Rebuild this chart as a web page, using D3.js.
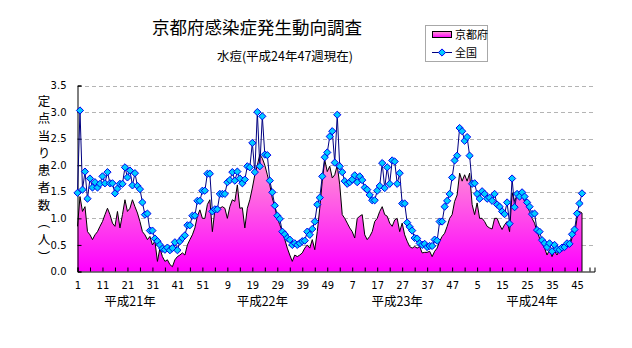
<!DOCTYPE html>
<html><head><meta charset="utf-8">
<script src="https://cdn.jsdelivr.net/npm/d3@7"></script>
<style>
html,body{margin:0;padding:0;background:#fff;}
svg{display:block;font-family:"Noto Sans CJK JP","Noto Sans",sans-serif;}
</style></head><body>
<svg id="c" width="632" height="348"></svg>
<script>
// ---- data ----
const title = "京都府感染症発生動向調査";
const subtitle = "水痘(平成24年47週現在)";
const yLabel = "定点当り患者数（人）";
const seriesNames = ["京都府", "全国"];
const eraYears = ["平成21年", "平成22年", "平成23年", "平成24年"];
const eraLabelWeekIndex = [21, 74, 128, 182];
const weeksPerYear = 52;
const yTicks = [0, 0.5, 1, 1.5, 2, 2.5, 3, 3.5];

const kyoto = [
0.85,1.41,1.13,1.22,0.75,0.69,0.60,0.69,0.75,0.85,0.94,1.07,1.19,1.07,0.91,0.85,1.13,0.82,1.07,1.35,
1.13,1.19,1.35,1.22,1.10,0.94,0.75,0.69,0.60,0.66,0.50,0.57,0.19,0.44,0.28,0.19,0.22,0.13,0.09,0.22,
0.28,0.31,0.35,0.31,0.50,0.60,0.69,0.82,1.04,1.16,1.00,1.00,1.26,1.35,0.75,1.16,1.22,1.19,1.22,1.19,
1.00,1.22,1.35,1.32,1.63,1.19,1.20,0.82,1.19,1.35,1.57,1.82,2.00,2.20,2.13,2.00,1.82,1.63,1.38,1.22,
1.00,0.88,0.75,0.60,0.44,0.31,0.19,0.31,0.28,0.31,0.35,0.44,0.50,0.44,0.60,0.41,0.75,1.19,1.70,2.10,
1.88,1.98,1.76,1.82,2.00,1.63,1.07,1.00,0.91,0.82,0.75,0.63,1.00,1.04,1.07,0.69,0.60,0.66,0.75,0.94,
1.00,1.13,1.22,1.07,1.04,0.91,0.85,0.97,1.00,0.75,0.91,0.69,0.57,0.47,0.44,0.47,0.44,0.47,0.35,0.36,
0.36,0.38,0.28,0.38,0.44,0.57,0.66,0.72,0.85,1.00,1.07,1.32,1.44,1.85,1.70,1.82,1.70,1.85,1.26,1.07,
1.29,1.00,1.00,0.94,0.85,0.82,0.80,1.00,1.00,0.88,0.79,0.88,0.94,0.75,1.48,1.32,1.44,1.51,1.44,1.32,
1.22,1.13,1.00,0.91,0.75,0.63,0.53,0.44,0.31,0.41,0.28,0.38,0.31,0.41,0.38,0.44,0.47,0.47,0.63,0.69,
1.00,1.13,1.10
];
const national = [
1.48,3.03,1.54,1.88,1.37,1.75,1.58,1.68,1.58,1.65,1.79,1.66,1.87,1.66,1.66,1.47,1.56,1.65,1.65,1.96,
1.77,1.90,1.62,1.85,1.61,1.55,1.30,1.07,1.09,0.77,0.77,0.62,0.57,0.50,0.43,0.41,0.45,0.40,0.44,0.55,
0.40,0.57,0.63,0.68,0.87,0.87,1.05,1.05,1.33,1.33,1.52,1.52,1.84,1.84,1.13,1.17,1.17,1.46,1.46,1.46,
1.68,1.72,1.87,1.71,1.88,1.75,1.66,1.73,1.98,1.96,2.42,1.87,3.00,1.98,2.92,2.20,2.19,1.71,1.49,1.24,
1.05,0.99,0.75,0.70,0.63,0.60,0.50,0.53,0.50,0.53,0.57,0.58,0.75,0.69,0.80,0.94,1.26,1.39,1.79,2.15,
2.24,2.54,2.64,2.05,2.95,1.98,1.87,1.70,1.65,1.68,1.73,1.81,1.68,1.79,1.72,1.58,1.54,1.44,1.34,1.34,
1.52,1.61,2.04,1.57,1.96,1.65,2.09,2.07,1.65,1.85,1.28,1.28,0.92,0.84,0.77,0.63,0.62,0.53,0.50,0.52,
0.46,0.48,0.48,0.60,0.58,0.94,0.94,1.22,1.33,1.46,1.77,2.09,2.18,2.70,2.64,2.46,2.53,2.18,1.65,1.66,
1.46,1.37,1.51,1.46,1.37,1.39,1.33,1.46,1.26,1.22,1.13,1.08,1.30,0.90,1.75,1.21,1.46,1.41,1.49,1.41,
1.30,1.22,1.08,1.09,0.78,0.75,0.59,0.53,0.46,0.53,0.38,0.50,0.42,0.41,0.45,0.46,0.53,0.52,0.70,0.79,
1.09,1.28,1.47
];

// categories: week numbers for four years
const categories = [];
eraYears.forEach(() => { for (let w = 1; w <= weeksPerYear; w++) categories.push(w); });

// ---- drawing ----
const svg = d3.select("#c");
svg.append("rect").attr("width", 632).attr("height", 348).attr("fill", "#fff");

const x = d3.scaleLinear().domain([0, categories.length - 1]).range([77.5, 594.5]);
const y = d3.scaleLinear().domain([0, 3.5]).range([271.5, 85.5]);

const defs = svg.append("defs");
const grad = defs.append("linearGradient").attr("id", "pinkGrad")
  .attr("x1", 0).attr("y1", 0).attr("x2", 0).attr("y2", 1);
grad.append("stop").attr("offset", "0%").attr("stop-color", "#ff9fd2");
grad.append("stop").attr("offset", "100%").attr("stop-color", "#ff00ff");

// gridlines
svg.append("g").selectAll("line").data(yTicks.filter(d => d > 0)).join("line")
  .attr("x1", 78).attr("x2", 594)
  .attr("y1", d => Math.round(y(d)) + 0.5).attr("y2", d => Math.round(y(d)) + 0.5)
  .attr("stroke", "#b4b4b4").attr("stroke-dasharray", "4,3");

// Kyoto area
svg.append("path").datum(kyoto)
  .attr("d", d3.area().x((d, i) => x(i)).y0(y(0)).y1(d => y(d)))
  .attr("fill", "url(#pinkGrad)");
svg.append("path").datum(kyoto)
  .attr("d", d3.line().x((d, i) => x(i)).y(d => y(d)))
  .attr("fill", "none").attr("stroke", "#000").attr("stroke-width", 1);
svg.append("line")
  .attr("x1", x(kyoto.length - 1)).attr("x2", x(kyoto.length - 1))
  .attr("y1", y(kyoto[kyoto.length - 1])).attr("y2", y(0))
  .attr("stroke", "#000");

// axes
const yAxis = d3.axisLeft(y).tickValues(yTicks).tickFormat(d3.format(".1f")).tickSize(-4).tickPadding(11);
const gy = svg.append("g").attr("transform", "translate(77.5,0)").call(yAxis);
gy.select(".domain").attr("stroke", "#000");
gy.selectAll(".tick line").attr("stroke", "#000");
gy.selectAll("text").attr("font-size", 10).attr("fill", "#000")
  .attr("font-family", "'DejaVu Sans','Noto Sans',sans-serif");

const xAxis = d3.axisBottom(x).tickValues(d3.range(0, categories.length - 1, 5))
  .tickFormat(i => (i % 10 === 0 ? String(categories[i]) : "")).tickSize(-4).tickPadding(10);
const gx = svg.append("g").attr("transform", "translate(0,271.5)").call(xAxis);
gx.select(".domain").attr("stroke", "#000");
gx.selectAll(".tick line").attr("stroke", "#000");
gx.selectAll("text").attr("font-size", 10).attr("fill", "#000")
  .attr("font-family", "'DejaVu Sans','Noto Sans',sans-serif");

// national line + markers
svg.append("path").datum(national)
  .attr("d", d3.line().x((d, i) => x(i)).y(d => y(d)))
  .attr("fill", "none").attr("stroke", "#000080").attr("stroke-width", 1);
const diamond = "M0,-3.6L3.6,0L0,3.6L-3.6,0Z";
svg.append("g").selectAll("path").data(national).join("path")
  .attr("d", diamond)
  .attr("transform", (d, i) => `translate(${x(i)},${y(d)})`)
  .attr("fill", "#00ccff").attr("stroke", "#0000ee").attr("stroke-width", 1);

// year labels
svg.append("g").selectAll("text").data(eraYears).join("text")
  .attr("x", (d, k) => x(eraLabelWeekIndex[k])).attr("y", 306)
  .attr("text-anchor", "middle").attr("font-size", 12.5).attr("fill", "#000")
  .text(d => d);

// titles
svg.append("text").attr("x", 257).attr("y", 34).attr("text-anchor", "middle")
  .attr("font-size", 17.5).attr("fill", "#000").text(title);
svg.append("text").attr("x", 285).attr("y", 60.5).attr("text-anchor", "middle")
  .attr("font-size", 12.5).attr("fill", "#000").text(subtitle);

// y label (vertical)
svg.append("text").attr("x", 44).attr("y", 95)
  .style("writing-mode", "vertical-rl")
  .attr("font-size", 12.5).attr("letter-spacing", 4.8).attr("fill", "#000")
  .text(yLabel);

// legend
const lg = svg.append("g");
lg.append("rect").attr("x", 425.5).attr("y", 25.5).attr("width", 62).attr("height", 36)
  .attr("fill", "#fff").attr("stroke", "#a8a8a8");
lg.append("rect").attr("x", 432.5).attr("y", 31.5).attr("width", 19).attr("height", 6)
  .attr("fill", "url(#pinkGrad)").attr("stroke", "#000");
lg.append("line").attr("x1", 432).attr("x2", 452).attr("y1", 52.5).attr("y2", 52.5)
  .attr("stroke", "#000080");
lg.append("path").attr("d", diamond).attr("transform", "translate(442,52.5)")
  .attr("fill", "#00ccff").attr("stroke", "#0000ee");
lg.selectAll("text.lt").data(seriesNames).join("text").attr("class", "lt")
  .attr("x", 455).attr("y", (d, k) => k === 0 ? 38.5 : 56.5)
  .attr("font-size", 11).attr("fill", "#000").text(d => d);
</script>
</body></html>
